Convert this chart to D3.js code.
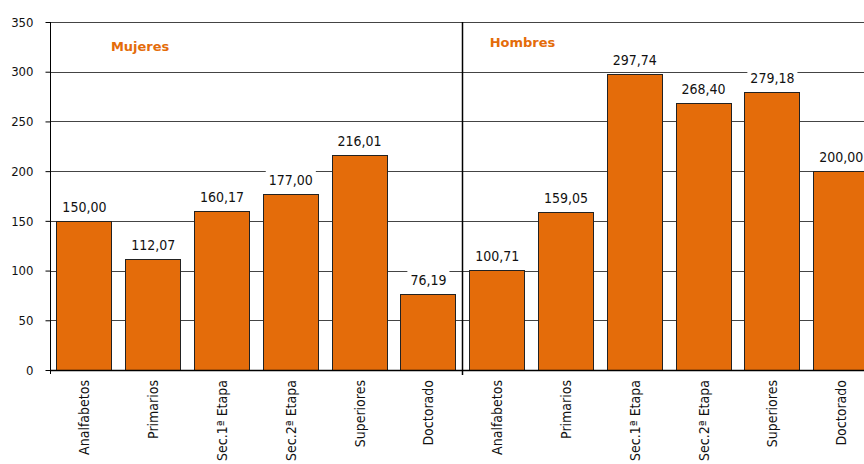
<!DOCTYPE html>
<html><head><meta charset="utf-8">
<script src="https://cdn.jsdelivr.net/npm/d3@7"></script>
<style>body{margin:0;background:#fff;overflow:hidden}svg{display:block}</style>
</head><body><div id="chart"></div>
<script>
const categories = ["Analfabetos","Primarios","Sec.1ª Etapa","Sec.2ª Etapa","Superiores","Doctorado"];
const groups = ["Mujeres","Hombres"];
const mujeres = [150.00,112.07,160.17,177.00,216.01,76.19];
const hombres = [100.71,159.05,297.74,268.40,279.18,200.00];
const yTicks = [0,50,100,150,200,250,300,350];

(function(){
const data = [];
groups.forEach((g,gi)=>{
  const vals = gi===0?mujeres:hombres;
  categories.forEach((c,i)=>data.push({group:g,cat:c,value:vals[i],idx:gi*categories.length+i}));
});

const W=864,H=464;
const mLeft=50, mTop=22, mBottom=370;
const step=68.8;
const font="'DejaVu Sans Condensed', 'DejaVu Sans', Verdana, sans-serif";
const boldFont="'DejaVu Sans', Verdana, sans-serif";
const orange="#E46C0A";

const svg=d3.select("#chart").append("svg").attr("width",W).attr("height",H);
const x=d3.scaleBand().domain(d3.range(data.length)).range([mLeft,mLeft+step*data.length]).paddingInner(0.2).paddingOuter(0.1);
const y=d3.scaleLinear().domain([0,350]).range([mBottom,mTop]);

// gridlines
svg.append("g").selectAll("line").data(yTicks.filter(d=>d>0)).join("line")
  .attr("x1",mLeft).attr("x2",W).attr("y1",d=>Math.round(y(d))+0.5).attr("y2",d=>Math.round(y(d))+0.5)
  .attr("stroke","#444").attr("stroke-width",1);

// bars
svg.append("g").selectAll("rect").data(data).join("rect")
  .attr("x",d=>Math.floor(x(d.idx))+0.5).attr("width",Math.round(x.bandwidth()))
  .attr("y",d=>Math.round(y(d.value))+0.5).attr("height",d=>Math.round(y(0))-Math.round(y(d.value)))
  .attr("fill",orange).attr("stroke","#222").attr("stroke-width",1);

// value labels with white boxes
const fmt=v=>v.toFixed(2).replace(".",",");
const lbl=svg.append("g").selectAll("g").data(data).join("g")
  .attr("transform",d=>`translate(${x(d.idx)+x.bandwidth()/2},${y(d.value)-9})`);
lbl.append("text").text(d=>fmt(d.value)).attr("text-anchor","middle")
  .attr("font-family",font).attr("font-size",14).attr("fill","#111");
lbl.each(function(){
  const g=d3.select(this), t=g.select("text"), b=t.node().getBBox();
  g.insert("rect","text").attr("x",b.x-3).attr("y",-15).attr("width",b.width+6).attr("height",21).attr("fill","#fff");
});

// divider between groups
const divX=Math.round(mLeft+step*categories.length)-0.5;
svg.append("line").attr("x1",divX).attr("x2",divX).attr("y1",mTop).attr("y2",mBottom+5)
  .attr("stroke","#000").attr("stroke-width",1.5);

// y axis
const ya=svg.append("g").attr("transform",`translate(${mLeft+0.5},0)`)
  .call(d3.axisLeft(y).tickValues(yTicks).tickSize(5).tickPadding(12).tickSizeOuter(0));
ya.select(".domain").remove();
ya.selectAll("line").attr("stroke","#000");
ya.selectAll("text").attr("font-family",font).attr("font-size",13).attr("fill","#111");
svg.append("line").attr("x1",mLeft+0.5).attr("x2",mLeft+0.5).attr("y1",mTop).attr("y2",mBottom+4).attr("stroke","#000");
// x axis line
svg.append("line").attr("x1",mLeft).attr("x2",W).attr("y1",mBottom+0.5).attr("y2",mBottom+0.5).attr("stroke","#000").attr("stroke-width",1.3);

// category labels
svg.append("g").selectAll("text").data(data).join("text")
  .attr("transform",d=>`translate(${x(d.idx)+x.bandwidth()/2},380) rotate(-90)`)
  .attr("text-anchor","end").attr("dy","0.36em").text(d=>d.cat)
  .attr("font-family",font).attr("font-size",14).attr("fill","#111");

// group titles
svg.append("g").selectAll("text").data(groups).join("text")
  .attr("x",(d,i)=>x(i*categories.length)+(i===0?54:20))
  .attr("y",(d,i)=>y(i===0?321:325))
  .text(d=>d).attr("font-family",boldFont).attr("font-size",13).attr("font-weight","bold").attr("fill",orange);
})();
</script></body></html>
